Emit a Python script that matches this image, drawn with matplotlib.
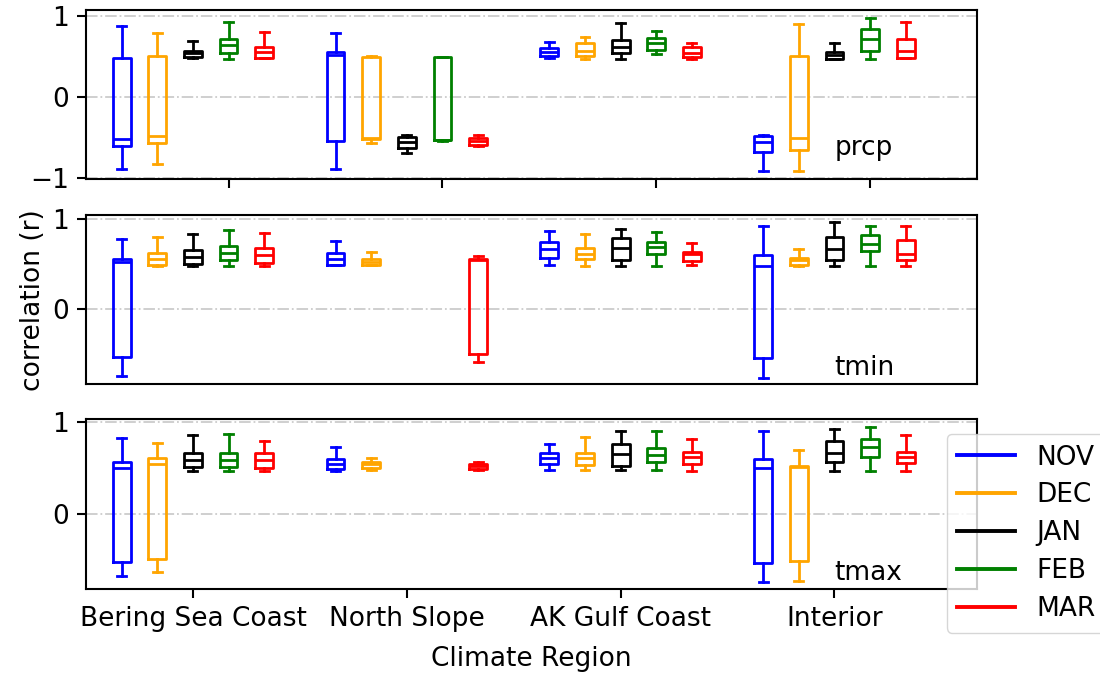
import matplotlib
matplotlib.use("Agg")
import matplotlib.pyplot as plt
from matplotlib.lines import Line2D

regions = ["Bering Sea Coast", "North Slope", "AK Gulf Coast", "Interior"]
months = ["NOV", "DEC", "JAN", "FEB", "MAR"]
colors = ["blue", "orange", "black", "green", "red"]

# box stats per region, per month: (whislo, q1, med, q3, whishi)
prcp = [
    [(-0.89, -0.60, -0.52, 0.49, 0.88), (-0.83, -0.57, -0.48, 0.515, 0.79),
     (0.49, 0.50, 0.545, 0.57, 0.69), (0.475, 0.545, 0.64, 0.72, 0.93),
     (0.48, 0.49, 0.557, 0.625, 0.81)],
    [(-0.89, -0.55, 0.52, 0.56, 0.79), (-0.57, -0.52, -0.51, 0.495, 0.515),
     (-0.695, -0.625, -0.56, -0.50, -0.47), (-0.54, -0.53, -0.53, 0.50, 0.50),
     (-0.61, -0.59, -0.547, -0.51, -0.47)],
    [(0.48, 0.515, 0.557, 0.605, 0.68), (0.47, 0.515, 0.577, 0.667, 0.74),
     (0.475, 0.545, 0.626, 0.708, 0.92), (0.53, 0.585, 0.667, 0.73, 0.82),
     (0.47, 0.503, 0.55, 0.626, 0.667)],
    [(-0.91, -0.675, -0.56, -0.48, -0.47), (-0.92, -0.654, -0.51, 0.51, 0.90),
     (0.47, 0.475, 0.52, 0.557, 0.667), (0.475, 0.573, 0.717, 0.84, 0.985),
     (0.48, 0.49, 0.573, 0.717, 0.93)],
]

tmin = [
    [(-0.73, -0.52, 0.524, 0.56, 0.773), (0.48, 0.49, 0.56, 0.62, 0.80),
     (0.48, 0.505, 0.58, 0.65, 0.83), (0.48, 0.54, 0.62, 0.70, 0.88),
     (0.48, 0.51, 0.60, 0.68, 0.84)],
    [(0.485, 0.49, 0.55, 0.62, 0.75), (0.485, 0.49, 0.524, 0.56, 0.634),
     None, None,
     (-0.575, -0.49, 0.54, 0.553, 0.586)],
    [(0.487, 0.57, 0.67, 0.744, 0.864), (0.48, 0.55, 0.61, 0.68, 0.835),
     (0.48, 0.54, 0.68, 0.79, 0.89), (0.48, 0.61, 0.69, 0.744, 0.853),
     (0.487, 0.53, 0.61, 0.634, 0.733)],
    [(-0.75, -0.54, 0.476, 0.60, 0.916), (0.48, 0.487, 0.54, 0.57, 0.67),
     (0.48, 0.54, 0.67, 0.80, 0.96), (0.476, 0.64, 0.725, 0.817, 0.916),
     (0.476, 0.54, 0.615, 0.77, 0.916)],
]

tmax = [
    [(-0.68, -0.52, 0.505, 0.564, 0.825), (-0.63, -0.49, 0.545, 0.607, 0.778),
     (0.473, 0.516, 0.59, 0.67, 0.862), (0.473, 0.516, 0.59, 0.67, 0.87),
     (0.473, 0.50, 0.59, 0.66, 0.80)],
    [(0.473, 0.49, 0.54, 0.60, 0.727), (0.48, 0.505, 0.54, 0.57, 0.607),
     None, None,
     (0.48, 0.49, 0.524, 0.55, 0.564)],
    [(0.48, 0.545, 0.61, 0.66, 0.76), (0.48, 0.535, 0.61, 0.67, 0.84),
     (0.48, 0.524, 0.655, 0.76, 0.905), (0.48, 0.571, 0.644, 0.716, 0.90),
     (0.473, 0.545, 0.625, 0.68, 0.82)],
    [(-0.745, -0.53, 0.505, 0.60, 0.905), (-0.73, -0.51, 0.516, 0.527, 0.70),
     (0.473, 0.571, 0.66, 0.80, 0.924), (0.473, 0.62, 0.727, 0.82, 0.953),
     (0.473, 0.553, 0.625, 0.68, 0.862)],
]

panels = [("prcp", prcp), ("tmin", tmin), ("tmax", tmax)]

plt.rcParams["font.family"] = ["DejaVu Sans"]
plt.rcParams["font.size"] = 19

fig = plt.figure(figsize=(11, 6.74), dpi=100)
rects = [[0.0782, 0.7344, 0.81, 0.2508],
         [0.0782, 0.4298, 0.81, 0.2512],
         [0.0782, 0.1260, 0.81, 0.2523]]
ylims = [(-1.015, 1.08), (-0.825, 1.04), (-0.82, 1.036)]
axes = [fig.add_axes(r) for r in rects]

for k, (ax, (name, data)) in enumerate(zip(axes, panels)):
    for j, (month, col) in enumerate(zip(months, colors)):
        stats, pos = [], []
        for i in range(len(regions)):
            s = data[i][j]
            if s is None:
                continue
            lo, q1, med, q3, hi = s
            stats.append(dict(whislo=lo, q1=q1, med=med, q3=q3, whishi=hi, fliers=[]))
            pos.append(6 * i + j + 1)
        lp = dict(color=col, linewidth=2.0)
        ax.bxp(stats, positions=pos, widths=0.5, showfliers=False,
               boxprops=lp, whiskerprops=lp, capprops=lp, medianprops=lp,
               manage_ticks=False)
    ax.set_xlim(0, 25)
    ax.set_ylim(*ylims[k])
    ax.set_axisbelow(True)
    ax.yaxis.grid(True, linestyle="-.", color="#cccccc", linewidth=1.3)
    ax.text(21, -0.72, name, ha="left", va="baseline")
    for sp in ax.spines.values():
        sp.set_linewidth(1.5)
    ax.tick_params(length=6.5, width=1.5, pad=6)

axes[0].set_yticks([-1, 0, 1])
axes[0].set_xticks([6 * i + 4 for i in range(len(regions))])
axes[0].set_xticklabels([])
axes[1].set_yticks([0, 1])
axes[1].set_xticks([])
axes[1].set_ylabel("correlation (r)")
axes[2].set_yticks([0, 1])
axes[2].set_xticks([6 * i + 3 for i in range(len(regions))])
axes[2].set_xticklabels(regions)
axes[2].set_xlabel("Climate Region", labelpad=10)

handles = [Line2D([], [], color=c, linewidth=2.8) for c in colors]
axes[2].legend(handles, months, loc="upper left", bbox_to_anchor=(0.966, 0.912),
               borderaxespad=0, handlelength=2.2, labelspacing=0.45, fontsize=19)

fig.savefig("out.png", dpi=100)
